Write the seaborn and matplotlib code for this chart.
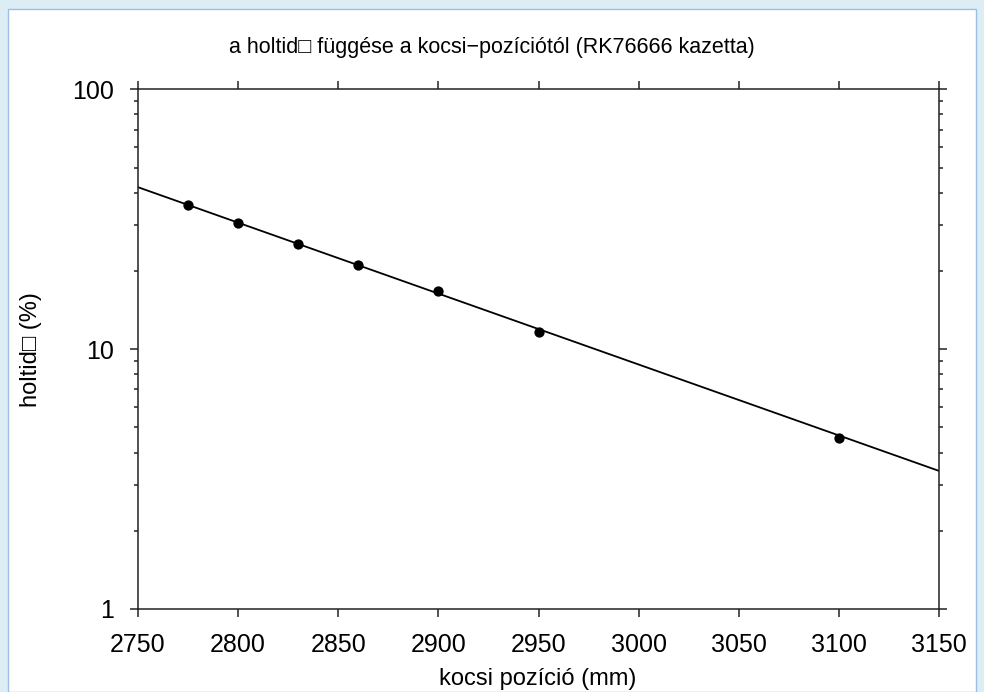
import matplotlib
matplotlib.use("Agg")
import matplotlib.pyplot as plt
from matplotlib.patches import Rectangle
from matplotlib.ticker import LogLocator, FixedLocator, NullFormatter
import seaborn as sns
import pandas as pd

# ---- data ----
position_mm = [2775, 2800, 2830, 2860, 2900, 2950, 3100]
deadtime_pct = [35.9, 30.7, 25.4, 21.0, 16.8, 11.6, 4.57]
fit_x = [2750, 3150]
fit_y = [42.0, 3.40]
x_ticks = [2750, 2800, 2850, 2900, 2950, 3000, 3050, 3100, 3150]
y_ticks = [1, 10, 100]
y_tick_labels = ["1", "10", "100"]
title = "a holtid\u25a1 függése a kocsi\u2212pozíciótól (RK76666 kazetta)"
xlabel = "kocsi pozíció (mm)"
ylabel = "holtid\u25a1 (%)"

sns.set_theme(style="ticks")
plt.rcParams['font.family'] = ['Liberation Sans', 'DejaVu Sans']

fig = plt.figure(figsize=(9.84, 6.92), dpi=100)
fig.patch.set_facecolor("#dcedf6")
# white page with a thin blue border
fig.patches.append(Rectangle((8/984, 0), (976-8)/984, 1 - 9/692,
                             transform=fig.transFigure, facecolor="white",
                             edgecolor="#9dbfe3", linewidth=1.0, zorder=-5))

ax = fig.add_axes([138/984, 1 - 609/692, (939-138)/984, (609-89.3)/692])
ax.set_zorder(2)
ax.set_facecolor("white")

pts = pd.DataFrame({"x": position_mm, "y": deadtime_pct})
fit = pd.DataFrame({"x": fit_x, "y": fit_y})

sns.lineplot(data=fit, x="x", y="y", ax=ax, color="black", linewidth=1.3)
sns.scatterplot(data=pts, x="x", y="y", ax=ax, color="black", s=55,
                edgecolor="black", linewidth=0, zorder=3)

ax.set_yscale("log")
ax.set_xlim(2750, 3150)
ax.set_ylim(1, 100)

ax.xaxis.set_major_locator(FixedLocator(x_ticks))
ax.set_xticklabels([str(v) for v in x_ticks])
ax.yaxis.set_major_locator(FixedLocator(y_ticks))
ax.set_yticklabels(y_tick_labels)
ax.yaxis.set_minor_locator(LogLocator(base=10, subs=range(2, 10)))
ax.yaxis.set_minor_formatter(NullFormatter())
ax.xaxis.set_minor_locator(FixedLocator([]))

for s in ax.spines.values():
    s.set_visible(True)
    s.set_linewidth(1.1)
    s.set_color("#222222")

ax.tick_params(axis="both", which="major", direction="out", length=6, width=1.1,
               color="#222222", labelsize=18, labelcolor="black", pad=11,
               top=True, right=True, labeltop=False, labelright=False)
ax.tick_params(axis="y", which="minor", direction="out", length=3.2, width=1.1,
               color="#222222", left=True, right=True)

ax.set_xlabel("")
ax.set_ylabel("")
ax.grid(False)

fig.text(492/984, 1 - 47/692, title, fontsize=15.5, ha="center", va="center",
         color="black")
fig.text(538/984, 1 - 679/692, xlabel, fontsize=17, ha="center", va="center",
         color="black")
fig.text(31/984, 1 - 350/692, ylabel, fontsize=17, ha="center", va="center",
         rotation=90, color="black")

fig.savefig("out.png", dpi=100, facecolor=fig.get_facecolor())
